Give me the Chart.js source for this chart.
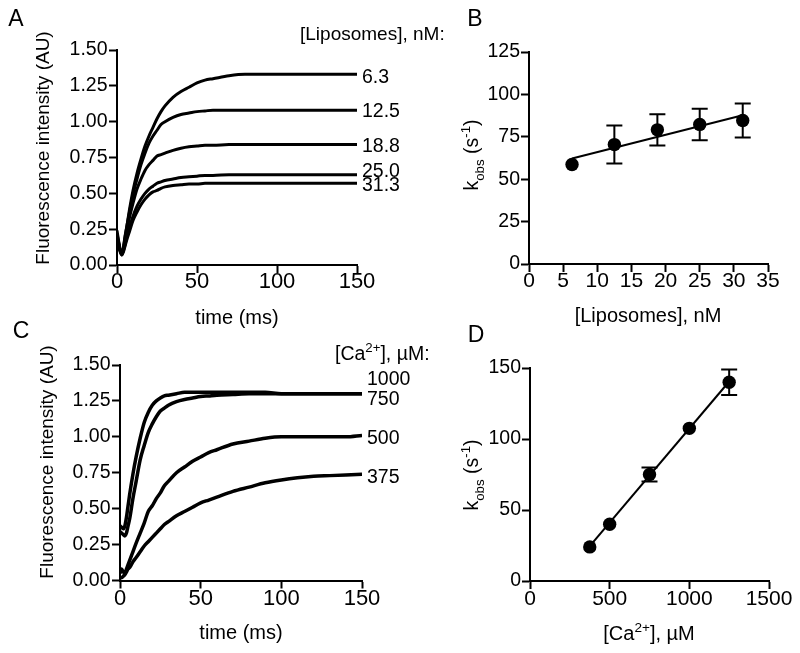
<!DOCTYPE html>
<html><head><meta charset="utf-8">
<script src="https://cdn.jsdelivr.net/npm/chart.js@4.4.0/dist/chart.umd.min.js"></script>
<style>
html,body{margin:0;padding:0;background:#fff;}
#wrap{position:relative;width:800px;height:653px;overflow:hidden;}
.layer{position:absolute;left:0;top:0;width:800px;height:653px;}
</style></head><body>
<div id="wrap">
<div class="layer"><canvas id="cA"></canvas></div>
<div class="layer"><canvas id="cB"></canvas></div>
<div class="layer"><canvas id="cC"></canvas></div>
<div class="layer"><canvas id="cD"></canvas></div>
</div>
<script>
// ---------------- DATA ----------------
// Panel A: fluorescence traces at different liposome concentrations (time in ms)
const timeMs = [0,1,2,3,4,5,6,8,10,12.5,15,17.5,20,22.5,25,27.5,30,35,40,45,50,55,60,70,80,90,100,110,120,130,140,150];
const liposomeLabels = ['6.3','12.5','18.8','25.0','31.3'];
const lipo6_3  = [0.22,0.16,0.10,0.08,0.12,0.20,0.26,0.40,0.52,0.64,0.74,0.83,0.90,0.96,1.02,1.07,1.11,1.17,1.21,1.24,1.27,1.29,1.30,1.32,1.33,1.33,1.33,1.33,1.33,1.33,1.33,1.33];
const lipo12_5 = [0.20,0.15,0.10,0.08,0.12,0.19,0.26,0.38,0.49,0.60,0.70,0.78,0.85,0.90,0.94,0.98,1.00,1.03,1.05,1.06,1.07,1.075,1.08,1.08,1.08,1.08,1.08,1.08,1.08,1.08,1.08,1.08];
const lipo18_8 = [0.18,0.13,0.09,0.07,0.11,0.17,0.23,0.34,0.43,0.53,0.60,0.66,0.70,0.73,0.76,0.77,0.78,0.80,0.815,0.825,0.83,0.835,0.835,0.84,0.84,0.84,0.84,0.84,0.84,0.84,0.84,0.84];
const lipo25_0 = [0.24,0.17,0.11,0.08,0.10,0.14,0.19,0.27,0.34,0.41,0.46,0.50,0.53,0.55,0.57,0.58,0.59,0.60,0.61,0.615,0.62,0.625,0.625,0.63,0.63,0.63,0.63,0.63,0.63,0.63,0.63,0.63];
const lipo31_3 = [0.20,0.15,0.10,0.07,0.09,0.13,0.17,0.24,0.31,0.37,0.42,0.46,0.49,0.51,0.52,0.535,0.545,0.555,0.56,0.565,0.565,0.57,0.57,0.57,0.57,0.57,0.57,0.57,0.57,0.57,0.57,0.57];

// Panel B: kobs vs [Liposomes]
const lipoConc   = [6.3,12.5,18.8,25.0,31.3];
const kobsLipo   = [58.7,70.4,79.1,82.3,84.6];
const kobsLipoSD = [0,11.2,9.2,9.3,10.0];
const lipoFitX   = [6.3,31.3];
const lipoFitY   = [62.2,87.7];

// Panel C: fluorescence traces at different [Ca2+] (µM)
const calciumLabels = ['1000','750','500','375'];
const ca1000 = [0.38,0.37,0.36,0.38,0.44,0.52,0.60,0.74,0.86,0.99,1.10,1.17,1.22,1.25,1.27,1.285,1.29,1.30,1.31,1.31,1.31,1.31,1.31,1.31,1.31,1.31,1.30,1.30,1.30,1.30,1.30,1.30];
const ca750  = [0.34,0.33,0.32,0.31,0.33,0.38,0.43,0.57,0.69,0.84,0.94,1.03,1.09,1.14,1.18,1.20,1.22,1.245,1.26,1.27,1.28,1.285,1.29,1.295,1.30,1.30,1.30,1.30,1.30,1.30,1.30,1.30];
const ca500  = [0.05,0.08,0.06,0.05,0.08,0.11,0.14,0.20,0.26,0.33,0.40,0.48,0.52,0.57,0.61,0.66,0.69,0.75,0.79,0.83,0.86,0.89,0.91,0.95,0.97,0.99,1.00,1.00,1.00,1.00,1.00,1.01];
const ca375  = [0.02,0.02,0.03,0.04,0.06,0.08,0.09,0.13,0.16,0.20,0.24,0.27,0.30,0.33,0.36,0.39,0.41,0.45,0.48,0.51,0.54,0.56,0.58,0.62,0.65,0.68,0.70,0.715,0.725,0.73,0.735,0.74];

// Panel D: kobs vs [Ca2+]
const caConc   = [375,500,750,1000,1250];
const kobsCa   = [24,40,75,107.5,140];
const kobsCaSD = [0,0,5,0,9];
const caFitX   = [375,1250];
const caFitY   = [24.5,140.5];

// ---------------- HELPERS ----------------
const FONT = "'Liberation Sans', Arial, Helvetica, sans-serif";

function parseRich(str){
  const segs=[]; let i=0, buf='';
  while(i<str.length){
    const c=str[i];
    if((c==='_'||c==='^') && str[i+1]==='{'){
      if(buf){segs.push({t:buf});buf='';}
      const end=str.indexOf('}',i);
      segs.push({t:str.slice(i+2,end), sub:c==='_', sup:c==='^'});
      i=end+1;
    } else {buf+=c;i++;}
  }
  if(buf) segs.push({t:buf});
  return segs;
}
function drawRich(ctx, str, x, y, size, align, rot){
  const segs=parseRich(str);
  ctx.save();
  ctx.translate(x,y);
  if(rot) ctx.rotate(rot);
  ctx.fillStyle='#000';
  ctx.textBaseline='alphabetic';
  ctx.textAlign='left';
  const small=size*0.68;
  const widths=segs.map(s=>{ctx.font=((s.sub||s.sup)?small:size)+'px '+FONT;return ctx.measureText(s.t).width;});
  const total=widths.reduce((a,b)=>a+b,0);
  let cx = align==='center' ? -total/2 : (align==='right' ? -total : 0);
  const base=size*0.36;
  segs.forEach((s,i)=>{
    ctx.font=((s.sub||s.sup)?small:size)+'px '+FONT;
    const dy=base+(s.sub?size*0.30:(s.sup?-size*0.40:0));
    ctx.fillText(s.t,cx,dy);
    cx+=widths[i];
  });
  ctx.restore();
}
const richText={
  id:'richText',
  afterDraw(chart,args,opts){
    const ctx=chart.ctx;
    (opts.items||[]).forEach(it=>{
      let x=it.x, y=it.y;
      if(it.yVal!==undefined) y=chart.scales.y.getPixelForValue(it.yVal);
      drawRich(ctx,it.text,x,y,it.size,it.align||'left',it.rot||0);
    });
  }
};
const errorBars={
  id:'errorBars',
  afterDatasetsDraw(chart,args,opts){
    if(!opts.x) return;
    const ctx=chart.ctx, xs=chart.scales.x, ys=chart.scales.y, cap=opts.cap||7;
    ctx.save(); ctx.strokeStyle='#000'; ctx.lineWidth=2;
    opts.x.forEach((xv,i)=>{
      const e=opts.err[i]; if(!e) return;
      const px=xs.getPixelForValue(xv), t=ys.getPixelForValue(opts.y[i]+e), b=ys.getPixelForValue(opts.y[i]-e);
      ctx.beginPath();
      ctx.moveTo(px,t);ctx.lineTo(px,b);
      ctx.moveTo(px-cap,t);ctx.lineTo(px+cap,t);
      ctx.moveTo(px-cap,b);ctx.lineTo(px+cap,b);
      ctx.stroke();
    });
    ctx.restore();
  }
};
function pts(xs,ys){return xs.map((x,i)=>({x:x,y:ys[i]}));}

const YW=60, XH=40;
function axis(min,max,step,fmt,isX,fontSize,pad){
  return {
    type:'linear', min:min, max:max,
    ticks:{stepSize:step, color:'#000', font:{family:FONT,size:fontSize}, padding:pad, callback:fmt, maxRotation:0, autoSkip:false},
    grid:{drawOnChartArea:false, drawTicks:true, tickLength:8, tickWidth:2, tickColor:'#000'},
    border:{display:true, color:'#000', width:2},
    title:{display:false},
    afterFit:(s)=>{ if(isX) s.height=XH; else s.width=YW; }
  };
}
function makeChart(id, area, datasets, xAx, yAx, textItems, err){
  return new Chart(document.getElementById(id),{
    type:'scatter',
    data:{datasets:datasets},
    options:{
      responsive:true, maintainAspectRatio:false, animation:false,
      layout:{padding:{left:area.l-YW, top:area.t, right:800-area.r, bottom:653-area.b-XH}},
      scales:{x:xAx, y:yAx},
      plugins:{legend:{display:false}, tooltip:{enabled:false},
        richText:{items:textItems}, errorBars:err||{}}
    },
    plugins:[richText, errorBars]
  });
}
function trace(xs,ys,w){
  return {data:pts(xs,ys), showLine:true, borderColor:'#000', borderWidth:w, pointRadius:0, cubicInterpolationMode:'monotone', fill:false};
}
const f2=v=>Number(v).toFixed(2), f0=v=>String(v);

// ---------------- PANEL A ----------------
makeChart('cA',{l:117,t:50,r:357,b:265},
  [lipo6_3,lipo12_5,lipo18_8,lipo25_0,lipo31_3].map(s=>trace(timeMs,s,3)),
  axis(0,150,50,f0,true,22,-4), axis(0,1.5,0.25,f2,false,19.5,1.5),
  [
    {text:'A',x:16,y:18,size:23,align:'center'},
    {text:'Fluorescence intensity (AU)',x:42,y:148,size:19,align:'center',rot:-Math.PI/2},
    {text:'time (ms)',x:237,y:317,size:20,align:'center'},
    {text:'[Liposomes], nM:',x:300,y:33,size:19},
    {text:liposomeLabels[0],x:362,yVal:1.32,size:19.5},
    {text:liposomeLabels[1],x:362,yVal:1.08,size:19.5},
    {text:liposomeLabels[2],x:362,yVal:0.84,size:19.5},
    {text:liposomeLabels[3],x:362,yVal:0.66,size:19.5},
    {text:liposomeLabels[4],x:362,yVal:0.565,size:19.5}
  ]);

// ---------------- PANEL B ----------------
makeChart('cB',{l:529,t:52,r:768,b:264},
  [
    {data:pts(lipoConc,kobsLipo), showLine:false, pointRadius:6.7, pointBackgroundColor:'#000', pointBorderWidth:0, order:0},
    {data:pts(lipoFitX,lipoFitY), showLine:true, borderColor:'#000', borderWidth:2, pointRadius:0, order:1}
  ],
  axis(0,35,5,f0,true,21,-3), axis(0,125,25,f0,false,19.5,1),
  [
    {text:'B',x:475,y:18,size:23,align:'center'},
    {text:'k_{obs} (s^{-1})',x:471,y:155,size:19.5,align:'center',rot:-Math.PI/2},
    {text:'[Liposomes], nM',x:648,y:315,size:20,align:'center'}
  ],
  {x:lipoConc,y:kobsLipo,err:kobsLipoSD,cap:8});

// ---------------- PANEL C ----------------
makeChart('cC',{l:120,t:365,r:362,b:580.5},
  [ca1000,ca750,ca500,ca375].map(s=>trace(timeMs,s,3.5)),
  axis(0,150,50,f0,true,22,-3), axis(0,1.5,0.25,f2,false,19.5,1.5),
  [
    {text:'C',x:21,y:330,size:23,align:'center'},
    {text:'Fluorescence intensity (AU)',x:46,y:462,size:19,align:'center',rot:-Math.PI/2},
    {text:'time (ms)',x:241,y:632,size:20,align:'center'},
    {text:'[Ca^{2+}], µM:',x:335,y:353,size:19.5},
    {text:calciumLabels[0],x:367,yVal:1.41,size:19.5},
    {text:calciumLabels[1],x:367,yVal:1.27,size:19.5},
    {text:calciumLabels[2],x:367,yVal:1.00,size:19.5},
    {text:calciumLabels[3],x:367,yVal:0.726,size:19.5}
  ]);

// ---------------- PANEL D ----------------
makeChart('cD',{l:530,t:368,r:769,b:581},
  [
    {data:pts(caConc,kobsCa), showLine:false, pointRadius:6.7, pointBackgroundColor:'#000', pointBorderWidth:0, order:0},
    {data:pts(caFitX,caFitY), showLine:true, borderColor:'#000', borderWidth:2, pointRadius:0, order:1}
  ],
  axis(0,1500,500,f0,true,21,-2), axis(0,150,50,f0,false,19.5,1),
  [
    {text:'D',x:476,y:334,size:23,align:'center'},
    {text:'k_{obs} (s^{-1})',x:471,y:475,size:19.5,align:'center',rot:-Math.PI/2},
    {text:'[Ca^{2+}], µM',x:649,y:633,size:20,align:'center'}
  ],
  {x:caConc,y:kobsCa,err:kobsCaSD,cap:8});
</script>
</body></html>
